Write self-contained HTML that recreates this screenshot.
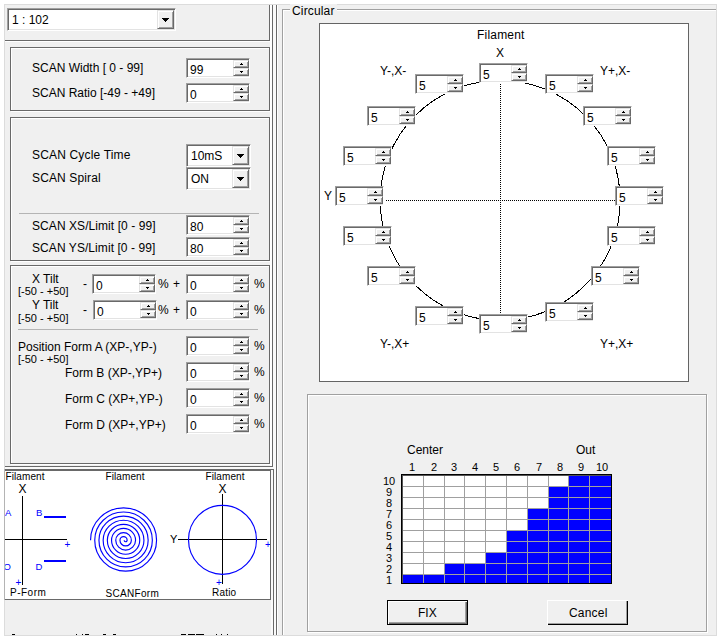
<!DOCTYPE html>
<html><head><meta charset="utf-8"><title>SCAN</title>
<style>
html,body{margin:0;padding:0;background:#fff;}
body{width:720px;height:641px;position:relative;overflow:hidden;font-family:"Liberation Sans",Arial,sans-serif;font-size:12px;color:#000;}
.r{position:absolute;}
.t{position:absolute;white-space:pre;line-height:normal;}
.grp{position:absolute;box-sizing:border-box;border:1px solid #696969;box-shadow:1px 1px 0 #fff, inset 1px 1px 0 #fff;}
.etch{position:absolute;box-sizing:border-box;border:1px solid #a0a0a0;box-shadow:1px 1px 0 #fff, inset 1px 1px 0 #fff;}
.edit{position:absolute;box-sizing:border-box;background:#fff;border-style:solid;border-width:1px;border-color:#a0a0a0 #fff #fff #a0a0a0;box-shadow:inset 1px 1px 0 #696969, inset -1px -1px 0 #e3e3e3;}
.edit .v{position:absolute;left:3px;top:4px;font-size:12px;line-height:normal;white-space:pre;}
.edit .cv{top:4px;left:4px;}
.sb{position:absolute;right:0;width:16px;height:8px;box-sizing:border-box;background:#f0f0f0;border-style:solid;border-width:1px;border-color:#e3e3e3 #696969 #696969 #e3e3e3;box-shadow:inset 1px 1px 0 #fff, inset -1px -1px 0 #a0a0a0;}
.sb.up{top:1px;}
.sb.dn{top:9px;}
.sb i{position:absolute;left:6px;top:2px;width:3px;height:2px;}
.sb.up i{background:linear-gradient(#000,#000) 1px 0/1px 1px no-repeat,linear-gradient(#000,#000) 0 1px/3px 1px no-repeat;}
.sb.dn i{background:linear-gradient(#000,#000) 0 0/3px 1px no-repeat,linear-gradient(#000,#000) 1px 1px/1px 1px no-repeat;}
.cb{position:absolute;right:1px;top:1px;width:17px;height:19px;box-sizing:border-box;background:#f0f0f0;border-style:solid;border-width:1px;border-color:#e3e3e3 #696969 #696969 #e3e3e3;box-shadow:inset 1px 1px 0 #fff, inset -1px -1px 0 #a0a0a0;}
.cb i{position:absolute;left:4px;top:7px;width:7px;height:4px;background:linear-gradient(#000,#000) 0 0/7px 1px no-repeat,linear-gradient(#000,#000) 1px 1px/5px 1px no-repeat,linear-gradient(#000,#000) 2px 2px/3px 1px no-repeat,linear-gradient(#000,#000) 3px 3px/1px 1px no-repeat;}
.btn{position:absolute;box-sizing:border-box;background:#f0f0f0;text-align:center;}
svg{position:absolute;left:0;top:0;}
svg text{font-family:"Liberation Sans",Arial,sans-serif;}
</style></head><body>

<div class="r" style="left:4px;top:4px;width:713px;height:632px;background:#dcdcdc"></div>
<div class="r" style="left:5px;top:5px;width:711px;height:630px;background:#f0f0f0"></div>
<div class="r" style="left:269px;top:5px;width:1px;height:36px;background:#696969"></div>
<div class="r" style="left:270px;top:5px;width:2px;height:37px;background:#fff"></div>
<div class="r" style="left:5px;top:40px;width:265px;height:1px;background:#696969"></div>
<div class="r" style="left:5px;top:41px;width:266px;height:1px;background:#fff"></div>
<div class="edit" style="left:7px;top:8px;width:169px;height:23px"><span class="v cv">1 : 102</span><div class="cb"><i></i></div></div>
<div class="r" style="left:270px;top:42px;width:2px;height:424px;background:#fff"></div>
<div class="r" style="left:272px;top:5px;width:1px;height:462px;background:#696969"></div>
<div class="r" style="left:5px;top:466px;width:268px;height:1px;background:#696969"></div>
<div class="r" style="left:273px;top:5px;width:3px;height:630px;background:#fafafa"></div>
<div class="r" style="left:5px;top:467px;width:271px;height:2px;background:#fafafa"></div>
<div class="r" style="left:5px;top:469px;width:269px;height:1px;background:#696969"></div>
<div class="r" style="left:273px;top:469px;width:1px;height:166px;background:#696969"></div>
<div class="r" style="left:271px;top:470px;width:2px;height:165px;background:#fafafa"></div>
<div class="r" style="left:276px;top:5px;width:1px;height:630px;background:#696969"></div>
<div class="r" style="left:277px;top:5px;width:1px;height:630px;background:#fff"></div>
<div class="grp" style="left:10px;top:47px;width:260px;height:64px"></div>
<span class="t" style="left:32px;top:61px;font-size:12px;color:#000;">SCAN Width [ 0 - 99]</span>
<span class="t" style="left:32px;top:86px;font-size:12px;color:#000;">SCAN Ratio [-49 - +49]</span>
<div class="edit" style="left:186px;top:58px;width:64px;height:20px"><span class="v">99</span><div class="sb up"><i></i></div><div class="sb dn"><i></i></div></div>
<div class="edit" style="left:186px;top:83px;width:64px;height:20px"><span class="v">0</span><div class="sb up"><i></i></div><div class="sb dn"><i></i></div></div>
<div class="grp" style="left:10px;top:117px;width:260px;height:144px"></div>
<span class="t" style="left:32px;top:148px;font-size:12px;color:#000;letter-spacing:0.17px">SCAN Cycle Time</span>
<span class="t" style="left:32px;top:171px;font-size:12px;color:#000;letter-spacing:0.13px">SCAN Spiral</span>
<div class="edit" style="left:186px;top:144px;width:65px;height:23px"><span class="v cv">10mS</span><div class="cb"><i></i></div></div>
<div class="edit" style="left:186px;top:167px;width:65px;height:23px"><span class="v cv">ON</span><div class="cb"><i></i></div></div>
<div class="r" style="left:19px;top:213px;width:240px;height:1px;background:#b4b4b4"></div>
<span class="t" style="left:32px;top:219px;font-size:12px;color:#000;letter-spacing:0.07px">SCAN XS/Limit [0 - 99]</span>
<span class="t" style="left:32px;top:241px;font-size:12px;color:#000;letter-spacing:0.07px">SCAN YS/Limit [0 - 99]</span>
<div class="edit" style="left:186px;top:215px;width:64px;height:20px"><span class="v">80</span><div class="sb up"><i></i></div><div class="sb dn"><i></i></div></div>
<div class="edit" style="left:186px;top:237px;width:64px;height:20px"><span class="v">80</span><div class="sb up"><i></i></div><div class="sb dn"><i></i></div></div>
<div class="grp" style="left:10px;top:265px;width:260px;height:199px"></div>
<span class="t" style="left:32px;top:272px;font-size:12px;color:#000;">X Tilt</span>
<span class="t" style="left:18px;top:285px;font-size:11px;color:#000;">[-50 - +50]</span>
<span class="t" style="left:83px;top:277px;font-size:12px;color:#000;">-</span>
<div class="edit" style="left:92px;top:274px;width:64px;height:20px"><span class="v">0</span><div class="sb up"><i></i></div><div class="sb dn"><i></i></div></div>
<span class="t" style="left:158px;top:277px;font-size:12px;color:#000;">%</span>
<span class="t" style="left:173px;top:277px;font-size:12px;color:#000;">+</span>
<div class="edit" style="left:186px;top:274px;width:64px;height:20px"><span class="v">0</span><div class="sb up"><i></i></div><div class="sb dn"><i></i></div></div>
<span class="t" style="left:254px;top:277px;font-size:12px;color:#000;">%</span>
<span class="t" style="left:32px;top:298px;font-size:12px;color:#000;">Y Tilt</span>
<span class="t" style="left:18px;top:312px;font-size:11px;color:#000;">[-50 - +50]</span>
<span class="t" style="left:83px;top:303px;font-size:12px;color:#000;">-</span>
<div class="edit" style="left:93px;top:300px;width:64px;height:20px"><span class="v">0</span><div class="sb up"><i></i></div><div class="sb dn"><i></i></div></div>
<span class="t" style="left:158px;top:303px;font-size:12px;color:#000;">%</span>
<span class="t" style="left:173px;top:303px;font-size:12px;color:#000;">+</span>
<div class="edit" style="left:186px;top:300px;width:64px;height:20px"><span class="v">0</span><div class="sb up"><i></i></div><div class="sb dn"><i></i></div></div>
<span class="t" style="left:254px;top:303px;font-size:12px;color:#000;">%</span>
<div class="r" style="left:18px;top:329px;width:240px;height:1px;background:#b4b4b4"></div>
<span class="t" style="left:18px;top:340px;font-size:12px;color:#000;">Position Form A (XP-,YP-)</span>
<span class="t" style="left:18px;top:353px;font-size:11px;color:#000;">[-50 - +50]</span>
<span class="t" style="left:65px;top:366px;font-size:12px;color:#000;">Form B (XP-,YP+)</span>
<span class="t" style="left:65px;top:392px;font-size:12px;color:#000;">Form C (XP+,YP-)</span>
<span class="t" style="left:65px;top:418px;font-size:12px;color:#000;">Form D (XP+,YP+)</span>
<div class="edit" style="left:186px;top:336px;width:64px;height:20px"><span class="v">0</span><div class="sb up"><i></i></div><div class="sb dn"><i></i></div></div>
<span class="t" style="left:254px;top:339px;font-size:12px;color:#000;">%</span>
<div class="edit" style="left:186px;top:362px;width:64px;height:20px"><span class="v">0</span><div class="sb up"><i></i></div><div class="sb dn"><i></i></div></div>
<span class="t" style="left:254px;top:365px;font-size:12px;color:#000;">%</span>
<div class="edit" style="left:186px;top:388px;width:64px;height:20px"><span class="v">0</span><div class="sb up"><i></i></div><div class="sb dn"><i></i></div></div>
<span class="t" style="left:254px;top:391px;font-size:12px;color:#000;">%</span>
<div class="edit" style="left:186px;top:414px;width:64px;height:20px"><span class="v">0</span><div class="sb up"><i></i></div><div class="sb dn"><i></i></div></div>
<span class="t" style="left:254px;top:417px;font-size:12px;color:#000;">%</span>
<div class="r" style="left:4px;top:469px;width:1px;height:131px;background:#b4b4b4"></div>
<div class="r" style="left:5px;top:470px;width:266px;height:130px;background:#696969"></div>
<div class="r" style="left:5px;top:471px;width:265px;height:128px;background:#fff"></div>
<div class="r" style="left:282px;top:9px;width:434px;height:1px;background:#a0a0a0"></div>
<div class="r" style="left:283px;top:10px;width:433px;height:1px;background:#fff"></div>
<div class="r" style="left:282px;top:9px;width:1px;height:626px;background:#a0a0a0"></div>
<div class="r" style="left:283px;top:10px;width:1px;height:625px;background:#fff"></div>
<div class="r" style="left:290px;top:4px;width:47px;height:12px;background:#f0f0f0"></div>
<span class="t" style="left:292px;top:4px;font-size:12px;color:#000;letter-spacing:0.15px">Circular</span>
<div class="r" style="left:319px;top:23px;width:370px;height:359px;box-sizing:border-box;background:#fff;border:1px solid #646464"></div>
<svg width="720" height="641" viewBox="0 0 720 641">
<circle cx="500.2" cy="200.4" r="120" fill="none" stroke="#000" stroke-width="1" shape-rendering="crispEdges"/>
<line x1="500.5" y1="84" x2="500.5" y2="314" stroke="#000" stroke-width="1" stroke-dasharray="1 1"/>
<line x1="386" y1="200.5" x2="616" y2="200.5" stroke="#000" stroke-width="1" stroke-dasharray="1 1"/>
</svg>
<span class="t" style="left:477px;top:28px;font-size:12px;color:#000;letter-spacing:0.2px">Filament</span>
<span class="t" style="left:496px;top:46px;font-size:12px;color:#000;">X</span>
<span class="t" style="left:380px;top:64px;font-size:12px;color:#000;">Y-,X-</span>
<span class="t" style="left:600px;top:64px;font-size:12px;color:#000;">Y+,X-</span>
<span class="t" style="left:380px;top:337px;font-size:12px;color:#000;">Y-,X+</span>
<span class="t" style="left:600px;top:337px;font-size:12px;color:#000;">Y+,X+</span>
<span class="t" style="left:324px;top:189px;font-size:12px;color:#000;">Y</span>
<div class="edit" style="left:479px;top:63px;width:49px;height:20px"><span class="v">5</span><div class="sb up"><i></i></div><div class="sb dn"><i></i></div></div>
<div class="edit" style="left:415px;top:74px;width:49px;height:20px"><span class="v">5</span><div class="sb up"><i></i></div><div class="sb dn"><i></i></div></div>
<div class="edit" style="left:545px;top:74px;width:49px;height:20px"><span class="v">5</span><div class="sb up"><i></i></div><div class="sb dn"><i></i></div></div>
<div class="edit" style="left:367px;top:106px;width:49px;height:20px"><span class="v">5</span><div class="sb up"><i></i></div><div class="sb dn"><i></i></div></div>
<div class="edit" style="left:583px;top:106px;width:49px;height:20px"><span class="v">5</span><div class="sb up"><i></i></div><div class="sb dn"><i></i></div></div>
<div class="edit" style="left:343px;top:146px;width:49px;height:20px"><span class="v">5</span><div class="sb up"><i></i></div><div class="sb dn"><i></i></div></div>
<div class="edit" style="left:607px;top:146px;width:49px;height:20px"><span class="v">5</span><div class="sb up"><i></i></div><div class="sb dn"><i></i></div></div>
<div class="edit" style="left:335px;top:186px;width:49px;height:20px"><span class="v">5</span><div class="sb up"><i></i></div><div class="sb dn"><i></i></div></div>
<div class="edit" style="left:615px;top:186px;width:49px;height:20px"><span class="v">5</span><div class="sb up"><i></i></div><div class="sb dn"><i></i></div></div>
<div class="edit" style="left:343px;top:226px;width:49px;height:20px"><span class="v">5</span><div class="sb up"><i></i></div><div class="sb dn"><i></i></div></div>
<div class="edit" style="left:607px;top:226px;width:49px;height:20px"><span class="v">5</span><div class="sb up"><i></i></div><div class="sb dn"><i></i></div></div>
<div class="edit" style="left:367px;top:266px;width:49px;height:20px"><span class="v">5</span><div class="sb up"><i></i></div><div class="sb dn"><i></i></div></div>
<div class="edit" style="left:591px;top:266px;width:49px;height:20px"><span class="v">5</span><div class="sb up"><i></i></div><div class="sb dn"><i></i></div></div>
<div class="edit" style="left:415px;top:306px;width:49px;height:20px"><span class="v">5</span><div class="sb up"><i></i></div><div class="sb dn"><i></i></div></div>
<div class="edit" style="left:545px;top:302px;width:49px;height:20px"><span class="v">5</span><div class="sb up"><i></i></div><div class="sb dn"><i></i></div></div>
<div class="edit" style="left:479px;top:314px;width:49px;height:20px"><span class="v">5</span><div class="sb up"><i></i></div><div class="sb dn"><i></i></div></div>
<div class="etch" style="left:307px;top:394px;width:400px;height:238px"></div>
<span class="t" style="left:407px;top:443px;font-size:12px;color:#000;">Center</span>
<span class="t" style="left:576px;top:443px;font-size:12px;color:#000;">Out</span>
<svg width="720" height="641" viewBox="0 0 720 641" shape-rendering="crispEdges">
<rect x="401" y="474" width="211" height="110" fill="#fff"/>
<rect x="402" y="574" width="21" height="10" fill="#0000ff"/>
<rect x="423" y="574" width="21" height="10" fill="#0000ff"/>
<rect x="444" y="563" width="20" height="21" fill="#0000ff"/>
<rect x="464" y="563" width="21" height="21" fill="#0000ff"/>
<rect x="485" y="552" width="21" height="32" fill="#0000ff"/>
<rect x="506" y="530" width="21" height="54" fill="#0000ff"/>
<rect x="527" y="508" width="21" height="76" fill="#0000ff"/>
<rect x="548" y="486" width="20" height="98" fill="#0000ff"/>
<rect x="568" y="475" width="21" height="109" fill="#0000ff"/>
<rect x="589" y="475" width="22" height="109" fill="#0000ff"/>
<rect x="423" y="475" width="1" height="109" fill="#a0a0a0"/>
<rect x="444" y="475" width="1" height="109" fill="#a0a0a0"/>
<rect x="464" y="475" width="1" height="109" fill="#a0a0a0"/>
<rect x="485" y="475" width="1" height="109" fill="#a0a0a0"/>
<rect x="506" y="475" width="1" height="109" fill="#a0a0a0"/>
<rect x="527" y="475" width="1" height="109" fill="#a0a0a0"/>
<rect x="548" y="475" width="1" height="109" fill="#a0a0a0"/>
<rect x="568" y="475" width="1" height="109" fill="#a0a0a0"/>
<rect x="589" y="475" width="1" height="109" fill="#a0a0a0"/>
<rect x="402" y="486" width="209" height="1" fill="#a0a0a0"/>
<rect x="402" y="497" width="209" height="1" fill="#a0a0a0"/>
<rect x="402" y="508" width="209" height="1" fill="#a0a0a0"/>
<rect x="402" y="519" width="209" height="1" fill="#a0a0a0"/>
<rect x="402" y="530" width="209" height="1" fill="#a0a0a0"/>
<rect x="402" y="541" width="209" height="1" fill="#a0a0a0"/>
<rect x="402" y="552" width="209" height="1" fill="#a0a0a0"/>
<rect x="402" y="563" width="209" height="1" fill="#a0a0a0"/>
<rect x="402" y="574" width="209" height="1" fill="#a0a0a0"/>
<rect x="402" y="475" width="209" height="1" fill="#555"/>
<rect x="402" y="475" width="1" height="108" fill="#555"/>
<rect x="401" y="474" width="211" height="1" fill="#000"/>
<rect x="401" y="474" width="1" height="110" fill="#000"/>
<rect x="611" y="474" width="1" height="110" fill="#000"/>
<rect x="401" y="583" width="211" height="1" fill="#000"/>
</svg>
<span class="t" style="left:409px;top:461px;font-size:11px;color:#000;">1</span>
<span class="t" style="left:431px;top:461px;font-size:11px;color:#000;">2</span>
<span class="t" style="left:451px;top:461px;font-size:11px;color:#000;">3</span>
<span class="t" style="left:472px;top:461px;font-size:11px;color:#000;">4</span>
<span class="t" style="left:493px;top:461px;font-size:11px;color:#000;">5</span>
<span class="t" style="left:514px;top:461px;font-size:11px;color:#000;">6</span>
<span class="t" style="left:536px;top:461px;font-size:11px;color:#000;">7</span>
<span class="t" style="left:557px;top:461px;font-size:11px;color:#000;">8</span>
<span class="t" style="left:578px;top:461px;font-size:11px;color:#000;">9</span>
<span class="t" style="left:596px;top:461px;font-size:11px;color:#000;">10</span>
<span class="t" style="left:383px;top:475px;font-size:11px;color:#000;">10</span>
<span class="t" style="left:386px;top:486px;font-size:11px;color:#000;">9</span>
<span class="t" style="left:386px;top:497px;font-size:11px;color:#000;">8</span>
<span class="t" style="left:386px;top:508px;font-size:11px;color:#000;">7</span>
<span class="t" style="left:386px;top:519px;font-size:11px;color:#000;">6</span>
<span class="t" style="left:386px;top:530px;font-size:11px;color:#000;">5</span>
<span class="t" style="left:386px;top:541px;font-size:11px;color:#000;">4</span>
<span class="t" style="left:386px;top:552px;font-size:11px;color:#000;">3</span>
<span class="t" style="left:386px;top:563px;font-size:11px;color:#000;">2</span>
<span class="t" style="left:386px;top:574px;font-size:11px;color:#000;">1</span>
<div class="btn" style="left:387px;top:600px;width:81px;height:25px;border:1px solid #000;box-shadow:inset 1px 1px 0 #fff, inset -1px -1px 0 #696969, inset -2px -2px 0 #a0a0a0"><span class="t" style="left:30px;top:5px">FIX</span></div>
<div class="btn" style="left:547px;top:600px;width:81px;height:25px;box-shadow:inset 1px 1px 0 #fff, inset -1px -1px 0 #000, inset -2px -2px 0 #a0a0a0"><span class="t" style="left:22px;top:6px;letter-spacing:0.2px">Cancel</span></div>
<svg width="720" height="641" viewBox="0 0 720 641">
<g shape-rendering="crispEdges">
<rect x="22" y="496" width="1" height="89" fill="#000"/>
<rect x="5" y="539" width="62" height="1" fill="#000"/>
<rect x="44" y="516" width="22" height="2" fill="#0000ff"/>
<rect x="44" y="560" width="22" height="2" fill="#0000ff"/>
<rect x="222" y="494" width="1" height="90" fill="#000"/>
<rect x="178" y="539" width="89" height="1" fill="#000"/>
</g>
<ellipse cx="222.5" cy="539.8" rx="34" ry="34.5" fill="none" stroke="#0000ff" stroke-width="1.15"/>
<path d="M90.55,540.2 A33.00,32.34 0 0 1 156.55,540.2 A30.90,30.90 0 0 1 94.75,540.2 A28.80,28.22 0 0 1 152.35,540.2 A26.70,26.70 0 0 1 98.95,540.2 A24.60,24.11 0 0 1 148.15,540.2 A22.50,22.50 0 0 1 103.15,540.2 A20.40,19.99 0 0 1 143.95,540.2 A18.30,18.30 0 0 1 107.35,540.2 A16.20,15.88 0 0 1 139.75,540.2 A14.10,14.10 0 0 1 111.55,540.2 A12.00,11.76 0 0 1 135.55,540.2 A9.90,9.90 0 0 1 115.75,540.2 A7.80,7.64 0 0 1 131.35,540.2 A5.70,5.70 0 0 1 119.95,540.2 A3.60,3.53 0 0 1 127.15,540.2 A1.50,1.50 0 0 1 124.15,540.2" fill="none" stroke="#0000ff" stroke-width="1.15"/>
</svg>
<span class="t" style="left:5.5px;top:471px;font-size:10px;color:#000;letter-spacing:0.1px">Filament</span>
<span class="t" style="left:105.5px;top:471px;font-size:10px;color:#000;letter-spacing:0.1px">Filament</span>
<span class="t" style="left:205.5px;top:471px;font-size:10px;color:#000;letter-spacing:0.1px">Filament</span>
<span class="t" style="left:18.5px;top:482px;font-size:12px;color:#000;">X</span>
<span class="t" style="left:218.5px;top:482px;font-size:12px;color:#000;">X</span>
<span class="t" style="left:170px;top:533px;font-size:11px;color:#000;">Y</span>
<span class="t" style="left:5px;top:507px;font-size:9.5px;color:#0000ff;">A</span>
<span class="t" style="left:36px;top:507px;font-size:9.5px;color:#0000ff;">B</span>
<div class="r" style="left:5px;top:560px;width:10px;height:14px;overflow:hidden">
<span class="t" style="left:-1.5px;top:1px;font-size:9.5px;color:#0000ff;">O</span>
</div>
<span class="t" style="left:35.5px;top:561px;font-size:9.5px;color:#0000ff;">D</span>
<span class="t" style="left:64.5px;top:539px;font-size:10px;color:#0000ff;">+</span>
<span class="t" style="left:15.5px;top:577px;font-size:10px;color:#0000ff;">+</span>
<div class="r" style="left:260px;top:536px;width:10px;height:16px;overflow:hidden">
<span class="t" style="left:5px;top:3px;font-size:10px;color:#0000ff;">+</span>
</div>
<span class="t" style="left:216px;top:577px;font-size:10px;color:#0000ff;">+</span>
<span class="t" style="left:10px;top:587px;font-size:10px;color:#000;letter-spacing:0.5px">P-Form</span>
<span class="t" style="left:105.5px;top:588px;font-size:10px;color:#000;letter-spacing:0.3px">SCANForm</span>
<span class="t" style="left:212px;top:587px;font-size:10px;color:#000;letter-spacing:0.2px">Ratio</span>
<div class="r" style="left:12px;top:634px;width:3px;height:1px;background:#000"></div>
<div class="r" style="left:76px;top:634px;width:1px;height:1px;background:#000"></div>
<div class="r" style="left:82px;top:634px;width:1px;height:1px;background:#000"></div>
<div class="r" style="left:85px;top:634px;width:4px;height:1px;background:#000"></div>
<div class="r" style="left:103px;top:634px;width:3px;height:1px;background:#000"></div>
<div class="r" style="left:113px;top:634px;width:3px;height:1px;background:#000"></div>
<div class="r" style="left:181px;top:634px;width:5px;height:1px;background:#000"></div>
<div class="r" style="left:188px;top:634px;width:7px;height:1px;background:#000"></div>
<div class="r" style="left:196px;top:634px;width:8px;height:1px;background:#000"></div>
<div class="r" style="left:216px;top:634px;width:1px;height:1px;background:#000"></div>
<div class="r" style="left:221px;top:634px;width:1px;height:1px;background:#000"></div>
<div class="r" style="left:227px;top:634px;width:1px;height:1px;background:#000"></div>
</body></html>
